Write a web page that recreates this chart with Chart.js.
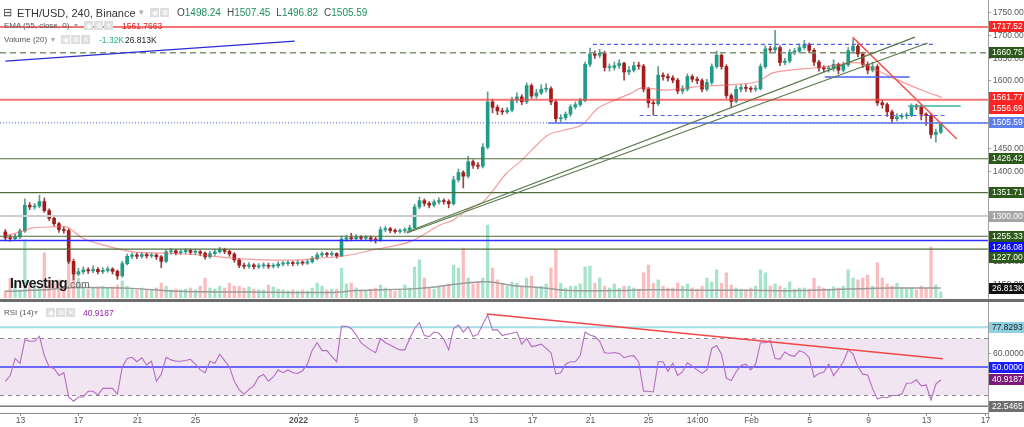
<!DOCTYPE html>
<html><head><meta charset="utf-8">
<script src="https://cdn.jsdelivr.net/npm/chart.js@4.4.1/dist/chart.umd.min.js"></script>
<style>
html,body{margin:0;padding:0;background:#fff;}
#wrap{position:relative;width:1024px;height:427px;overflow:hidden;font-family:"Liberation Sans",Arial,sans-serif;}
canvas{position:absolute;left:0;}
#c1{top:0}
#c2{top:300px}
.t{position:absolute;white-space:nowrap;line-height:1;}
.ic{display:inline-block;width:9px;height:9px;background:#dedede;margin-right:1px;vertical-align:top;color:#fff;font-size:7px;line-height:9px;text-align:center;}
.g{color:#1f8f5f}
#sep{position:absolute;left:0;top:299px;width:1024px;height:3px;background:#6d6d6d;}
</style></head>
<body>
<div id="wrap">
<canvas id="c1" width="1024" height="300"></canvas>
<canvas id="c2" width="1024" height="127"></canvas>
<div id="sep"></div>
<div class="t" style="left:3px;top:7px;font-size:11px;color:#444">⊟</div>
<div class="t" style="left:17px;top:8px;font-size:11px;color:#333">ETH/USD, 240, Binance</div>
<div class="t" style="left:139px;top:8px;font-size:9px;color:#aaa">▾</div>
<div class="t" style="left:150px;top:8px"><span class="ic">◉</span><span class="ic">⚙</span></div>
<div class="t" style="left:177px;top:8px;font-size:10px;color:#444">O<span class="g">1498.24</span><span style="margin-left:6px">H</span><span class="g">1507.45</span><span style="margin-left:6px">L</span><span class="g">1496.82</span><span style="margin-left:6px">C</span><span class="g">1505.59</span></div>
<div class="t" style="left:4px;top:22px;font-size:8px;color:#555">EMA (55, close, 0)</div>
<div class="t" style="left:74px;top:22px;font-size:8px;color:#aaa">▾</div>
<div class="t" style="left:84px;top:21px"><span class="ic">◉</span><span class="ic">⚙</span><span class="ic">✕</span></div>
<div class="t" style="left:122px;top:22px;font-size:8.5px;color:#e0201e">1561.7663</div>
<div class="t" style="left:4px;top:36px;font-size:8px;color:#555">Volume (20)</div>
<div class="t" style="left:51px;top:36px;font-size:8px;color:#aaa">▾</div>
<div class="t" style="left:61px;top:35px"><span class="ic">◉</span><span class="ic">⚙</span><span class="ic">✕</span></div>
<div class="t" style="left:99px;top:36px;font-size:8.5px;color:#1db980">-1.32K</div>
<div class="t" style="left:125px;top:36px;font-size:8.5px;color:#222">26.813K</div>
<div class="t" style="left:10px;top:276px;font-size:14px;font-weight:bold;color:#1a1a1a;letter-spacing:-0.5px">Investing<span style="font-size:10.5px;font-weight:normal;color:#666;letter-spacing:0">.com</span></div>
<div class="t" style="left:4px;top:309px;font-size:8px;color:#555">RSI (14)</div>
<div class="t" style="left:34px;top:309px;font-size:8px;color:#aaa">▾</div>
<div class="t" style="left:46px;top:308px"><span class="ic">◉</span><span class="ic">⚙</span><span class="ic">✕</span></div>
<div class="t" style="left:83px;top:309px;font-size:8.5px;color:#9c27b0">40.9187</div>
</div>
<script>
// ---------- DATA (8-hour candles) ----------
const firstOpen = 1265;
const closes = [1252,1250,1254,1267,1324,1320,1322,1332,1312,1295,
1283,1270,1268,1200,1172,1177,1181,1179,1182,1177,
1180,1183,1178,1168,1195,1211,1214,1211,1215,1212,
1214,1210,1200,1221,1223,1219,1221,1224,1220,1221,
1218,1210,1217,1221,1226,1222,1216,1203,1191,1189,
1192,1188,1190,1191,1189,1190,1194,1195,1197,1195,
1197,1196,1199,1206,1214,1217,1215,1217,1212,1249,
1252,1250,1253,1251,1252,1249,1246,1270,1272,1268,
1266,1268,1269,1274,1320,1334,1328,1324,1331,1334,
1332,1327,1380,1396,1388,1420,1412,1410,1452,1552,
1540,1532,1530,1534,1556,1563,1552,1588,1565,1572,
1580,1581,1552,1515,1517,1525,1541,1546,1555,1635,
1658,1655,1660,1628,1628,1632,1637,1618,1622,1632,
1631,1580,1550,1548,1611,1608,1605,1600,1576,1580,
1608,1602,1599,1580,1595,1630,1655,1630,1566,1553,
1580,1584,1582,1580,1581,1630,1669,1667,1672,1639,
1642,1662,1664,1672,1678,1666,1640,1627,1625,1626,
1635,1622,1634,1665,1675,1658,1635,1622,1630,1550,
1546,1530,1515,1519,1521,1522,1543,1541,1525,1522,
1480,1485,1505.59];
const highs = [1270,1258,1260,1272,1338,1330,1328,1346,1340,1316,
1298,1286,1276,1272,1205,1185,1188,1186,1190,1186,
1186,1188,1186,1181,1200,1216,1219,1218,1220,1219,
1218,1217,1213,1226,1228,1226,1226,1228,1227,1226,
1224,1221,1222,1226,1231,1229,1225,1219,1206,1196,
1197,1195,1195,1197,1196,1195,1199,1200,1201,1200,
1202,1201,1204,1211,1219,1221,1220,1222,1219,1256,
1258,1262,1259,1257,1257,1256,1253,1276,1277,1275,
1272,1272,1274,1280,1326,1342,1338,1332,1336,1340,
1338,1336,1388,1404,1400,1432,1424,1418,1460,1574,
1558,1545,1538,1540,1562,1572,1568,1594,1592,1580,
1590,1592,1585,1556,1524,1530,1546,1552,1560,1640,
1671,1664,1668,1664,1636,1640,1645,1640,1630,1640,
1640,1635,1584,1556,1630,1616,1614,1610,1604,1588,
1614,1612,1607,1603,1602,1636,1664,1658,1634,1570,
1588,1590,1590,1586,1588,1636,1676,1675,1710,1676,
1648,1668,1670,1680,1688,1682,1670,1644,1632,1632,
1645,1638,1640,1672,1690,1680,1662,1640,1640,1634,
1556,1550,1534,1526,1526,1528,1548,1547,1545,1528,
1526,1492,1507.45];
const lows = [1245,1244,1246,1250,1264,1314,1315,1318,1308,1290,
1278,1264,1262,1195,1159,1168,1172,1173,1175,1172,
1173,1176,1172,1160,1165,1192,1206,1206,1207,1207,
1208,1204,1186,1197,1216,1214,1215,1217,1215,1215,
1212,1205,1207,1213,1218,1217,1211,1198,1186,1184,
1185,1183,1184,1185,1184,1185,1186,1190,1191,1190,
1191,1192,1193,1196,1203,1210,1210,1211,1207,1210,
1244,1245,1246,1246,1246,1244,1240,1244,1265,1263,
1262,1262,1263,1265,1272,1316,1322,1318,1320,1326,
1326,1318,1324,1375,1362,1384,1405,1404,1406,1448,
1528,1524,1524,1526,1530,1550,1546,1548,1560,1560,
1568,1574,1546,1507,1508,1512,1520,1536,1542,1552,
1630,1648,1650,1620,1620,1622,1626,1600,1612,1618,
1624,1574,1540,1523,1544,1600,1598,1594,1570,1570,
1576,1596,1592,1574,1576,1590,1626,1624,1560,1540,
1550,1574,1575,1574,1575,1578,1626,1660,1662,1632,
1634,1638,1656,1660,1668,1660,1632,1620,1618,1618,
1620,1614,1618,1630,1660,1652,1628,1614,1618,1544,
1538,1520,1505,1510,1514,1515,1519,1535,1512,1500,
1472,1463,1482];
const volumes = [19,54,40,22,157,32,35,27,122,49,
40,49,27,122,95,54,27,24,27,30,
32,27,30,35,46,32,24,22,27,24,
22,27,40,32,22,24,22,24,27,22,
32,54,27,24,32,27,40,32,32,27,
30,24,22,22,35,30,24,22,19,22,
19,22,19,27,40,32,22,24,24,81,
38,40,27,22,19,24,27,35,27,22,
19,22,35,27,84,103,54,27,24,30,
32,38,89,81,135,54,38,43,54,197,
81,49,40,32,43,40,32,54,59,27,
32,38,81,130,40,27,32,32,38,84,
86,40,54,32,27,38,27,32,32,27,
24,68,89,40,49,32,27,27,40,32,
38,27,24,32,54,43,76,40,68,35,
27,24,22,27,32,76,68,32,38,32,
27,43,24,27,27,24,54,32,27,24,
30,27,32,76,54,49,54,62,32,95,
54,38,32,40,27,24,27,22,32,27,
138,35,16];
const rsi = [40,44,56,52.6,69,68,68,71.5,58,50,
49,44,46,29,26,29,29,33,33,30.5,
35,35,35,31,50,56,56.8,53.7,56.5,51.4,
54,40,45,56.8,55,54,54,54.5,55.4,52,
48,46,54,52.6,59,54.5,50,40,34,31,
34.3,37,43,44.8,40,43,47.9,46,47.9,46,
45.5,47.4,52,62,67,61.5,61.5,57.5,53.7,78.5,
78.6,77,72.5,67,64.3,62,60,70,67,65.4,
63.5,62,62,70,77,81,72,71.3,74.5,73.6,
69.5,62,77,79.4,74.5,78.3,71.3,73,80,86.4,
76,76,72,73,73.6,74.5,66,70,64.3,65,
66,63,60,45,46,52,53.7,53.7,58,74.5,
72.4,71.3,68,60,59.6,60.2,59.5,56.5,57.5,58,
53.5,33,33,32.5,53.7,53.7,47,52.6,44,46.7,
53,50.5,48,45.5,48,63,65,59,42,40.5,
46.7,51,52,48,52,67,67,68.5,56,55.5,
60.5,58.3,57.5,61.5,60,56.5,43,45.5,46.5,52,
44,48.5,53.5,62,59,50.2,45,44.4,35,27.5,
29,28.5,30,30,31,38.6,38.8,41,36.8,37.4,
27,38,40.9187];
const emaIdx = [0,3,5.7,10,12.6,15.9,19.4,26.2,33.2,39.9,46.7,53.7,60.5,64,67.2,70.7,75.4,83,89.2,91.9,94.7,98,100,102.9,105.6,108.1,111.4,114.8,118.3,121.6,125.1,128.6,130.6,135.4,141.5,147.3,154.2,157.5,161,167.8,173.3,175.4,178.9,182.2,185.6,189.1,192.2];
const emaVal = [1256,1265,1274,1276,1276,1251,1238,1221,1218,1214,1207,1203,1203,1207,1209,1214,1225,1243,1280,1291,1313,1331,1355,1395,1419,1446,1479,1490,1501,1538,1556,1572,1583,1578,1585,1589,1596,1616,1622,1629,1638,1638,1622,1605,1589,1574,1562];
const volMaIdx = [0,8,14,26,35,50,67,72,85,93,99,104,110,116,125,133,143,153,163,173,182,192];
const volMaVal = [18,22,28,26,18,16,15,20,26,38,44,34,28,20,20,22,21,21,20,24,27,26.813];
const volMaLabel = '26.813K';

// horizontal levels (price) and drawn segments [i1, price1, i2, price2]
const hLevels = [1717.52, 1660.75, 1556.69, 1505.59, 1426.42, 1351.71, 1300.00, 1255.33, 1246.08, 1227.00];
const segments = [
  [82.4,1264.7,186.7,1695],
  [82.4,1262.5,189.3,1682],
  [173.9,1695,195.3,1470],
  [0,1642,59.4,1686],
  [120.6,1679,190.8,1679],
  [130.2,1522,192.8,1522],
  [168.2,1607,185.6,1607],
  [185.3,1543,196.1,1543],
  [111.4,1505.59,201.7,1505.59]
];
const priceTicks = [1150,1200,1250,1300,1350,1400,1450,1500,1550,1600,1650,1700,1750];
const priceBoxVals = [1717.52,1660.75,1561.77,1556.69,1505.59,1426.42,1351.71,1300.00,1255.33,1246.08,1227.00];

// RSI panel
const rsiLevels = [77.8293, 70, 50, 30, 22.5465];
const rsiTrend = [98.8, 87.1, 192.4, 55.8];
const rsiBoxVals = [77.8293, 50, 40.9187, 22.5465];
const rsiTicks = [60];

// time axis
const dateTickIdx = [3,15,27,39,60,72,84,96,108,120,132,142,153,165,177,189,201];
const dateTickLabels = ['13','17','21','25','2022','5','9','13','17','21','25','14:00','Feb','5','9','13','17'];

// ---------- STYLES ----------
const X_MIN = -1.1, X_MAX = 201.7;
const FONT = '"Liberation Sans", Arial, sans-serif';
const AXIS_FONT = '8.5px ' + FONT;
const hStyles = [
  {c:'rgba(244,70,70,0.75)', w:2},
  {c:'#7f9272', w:1.5, d:[6,4]},
  {c:'rgba(244,70,70,0.75)', w:2},
  {c:'#4a63e6', w:1, d:[1,2]},
  {c:'#4f6b3c', w:1.2},
  {c:'#4f6b3c', w:1.2},
  {c:'#cdcdcd', w:2},
  {c:'#4f6b3c', w:1.2},
  {c:'#2e2eff', w:1.5},
  {c:'#4f6b3c', w:1.2}
];
const segStyles = [
  {c:'#5a7a4a', w:1.2},
  {c:'#5a7a4a', w:1.2},
  {c:'#f05656', w:1.5},
  {c:'#2b2bd6', w:1.2},
  {c:'#5060f0', w:1.2, d:[4,3]},
  {c:'#5060f0', w:1.2, d:[4,3]},
  {c:'#4a5ff0', w:1.5},
  {c:'#3cb4a0', w:1.5},
  {c:'#5a74ee', w:1.5}
];
const priceBoxBg = ['#ff2424','#2d5a1b','#ff2424','#ff2424','#5b7ff0','#2d5a1b','#2d5a1b','#a5a5a5','#2d5a1b','#0a0aff','#2d5a1b'];
const rsiBoxBg = ['#8fd1e1','#1a1aff','#7b1a7b','#6f6f6f'];
const rsiBoxFg = ['#222','#fff','#fff','#fff'];

const opens = closes.map((c,i)=> i===0 ? firstOpen : closes[i-1]);
const isUp = closes.map((c,i)=> c >= opens[i]);
const bodyCol = isUp.map(u=> u ? '#1e9c88' : '#a31b1b');
const wickCol = isUp.map(u=> u ? '#5e9e90' : '#a04040');
const volCol = isUp.map(u=> u ? 'rgba(40,190,130,0.42)' : 'rgba(240,90,90,0.4)');

function lineDs(x1,y1,x2,y2,st,order,axis){
  return {type:'line', data:[{x:x1,y:y1},{x:x2,y:y2}], borderColor:st.c, borderWidth:st.w,
    borderDash:st.d||[], pointRadius:0, fill:false, tension:0, yAxisID:axis||'y', order:order};
}
function drawBox(ctx,x,y,w,h,bg,fg,text){
  ctx.fillStyle=bg; ctx.fillRect(x, Math.round(y-h/2), w, h);
  ctx.fillStyle=fg; ctx.fillText(text, x+3, Math.round(y-h/2)+h/2+0.5);
}

// ---------- MAIN CHART ----------
const mainDatasets = [];
hLevels.forEach((v,k)=> mainDatasets.push(lineDs(X_MIN,v,X_MAX,v,hStyles[k],2)));
segments.forEach((s,k)=> mainDatasets.push(lineDs(s[0],s[1],s[2],s[3],segStyles[k],1)));
mainDatasets.push({type:'line', data:emaIdx.map((x,k)=>({x:x,y:emaVal[k]})), borderColor:'rgba(240,90,90,0.6)', borderWidth:1.2, pointRadius:0, tension:0.3, fill:false, yAxisID:'y', order:4});
mainDatasets.push({type:'bar', data:closes.map((c,i)=>({x:i,y:[opens[i],c]})), backgroundColor:bodyCol, barThickness:3, minBarLength:1, grouped:false, yAxisID:'y', order:5});
mainDatasets.push({type:'bar', data:closes.map((c,i)=>({x:i,y:[lows[i],highs[i]]})), backgroundColor:wickCol, barThickness:1, grouped:false, yAxisID:'y', order:6});
mainDatasets.push({type:'line', data:volMaIdx.map((x,k)=>({x:x,y:volMaVal[k]})), borderColor:'#9b9b9b', borderWidth:1.5, pointRadius:0, tension:0.35, fill:false, yAxisID:'yv', order:7});
mainDatasets.push({type:'bar', data:volumes.map((v,i)=>({x:i,y:v})), backgroundColor:volCol, barThickness:2.6, grouped:false, yAxisID:'yv', order:8});

const mainAxis = {id:'mainAxis', afterDraw(chart){
  const {ctx, chartArea:a} = chart; const ys = chart.scales.y, yv = chart.scales.yv;
  ctx.save();
  ctx.fillStyle='#fff'; ctx.fillRect(a.right, 0, chart.width-a.right, chart.height);
  ctx.strokeStyle='#a0a0a0'; ctx.lineWidth=1;
  ctx.beginPath(); ctx.moveTo(a.right+0.5,0); ctx.lineTo(a.right+0.5,chart.height); ctx.stroke();
  ctx.font=AXIS_FONT; ctx.textBaseline='middle'; ctx.textAlign='left';
  priceTicks.forEach(v=>{
    const py=Math.round(ys.getPixelForValue(v))+0.5;
    ctx.strokeStyle='#a0a0a0'; ctx.beginPath(); ctx.moveTo(a.right,py); ctx.lineTo(a.right+3,py); ctx.stroke();
    ctx.fillStyle='#555'; ctx.fillText(v.toFixed(2), a.right+5, py);
  });
  const items = priceBoxVals.map((v,k)=>({t:v.toFixed(2), y:ys.getPixelForValue(v), bg:priceBoxBg[k]}));
  items.sort((p,q)=>p.y-q.y);
  for(let k=1;k<items.length;k++) if(items[k].y<items[k-1].y+10.8) items[k].y=items[k-1].y+10.8;
  items.forEach(it=>drawBox(ctx,a.right+1,it.y,35,11,it.bg,'#fff',it.t));
  const vy = yv.getPixelForValue(volMaVal[volMaVal.length-1]);
  drawBox(ctx,a.right+1,vy,35,11,'#111','#fff',volMaLabel);
  ctx.restore();
}};

new Chart(document.getElementById('c1'), {
  type:'bar',
  data:{datasets:mainDatasets},
  options:{
    responsive:false, animation:false, events:[],
    layout:{padding:{left:0,right:36,top:0,bottom:2}},
    plugins:{legend:{display:false}, tooltip:{enabled:false}},
    scales:{
      x:{type:'linear', min:X_MIN, max:X_MAX, display:false, offset:false},
      y:{type:'linear', min:1119, max:1777, display:false},
      yv:{type:'linear', min:0, max:805, display:false}
    }
  },
  plugins:[mainAxis]
});

// ---------- RSI CHART ----------
const rsiDatasets = [];
rsiDatasets.push(lineDs(rsiTrend[0],rsiTrend[1],rsiTrend[2],rsiTrend[3],{c:'#f04848',w:1.5},1));
rsiDatasets.push({type:'line', data:rsi.map((v,i)=>({x:i,y:v})), borderColor:'#b36cc4', borderWidth:1.1, pointRadius:0, tension:0, fill:false, order:2});
rsiDatasets.push(lineDs(X_MIN,rsiLevels[2],X_MAX,rsiLevels[2],{c:'#3b3bff',w:1.5},3));
rsiDatasets.push(lineDs(X_MIN,rsiLevels[0],X_MAX,rsiLevels[0],{c:'#a6dce8',w:2},3));
rsiDatasets.push(lineDs(X_MIN,rsiLevels[4],X_MAX,rsiLevels[4],{c:'#7a7a7a',w:1.5},3));
const band30 = lineDs(X_MIN,rsiLevels[3],X_MAX,rsiLevels[3],{c:'#8c8c8c',w:1,d:[4,4]},4);
const band70 = lineDs(X_MIN,rsiLevels[1],X_MAX,rsiLevels[1],{c:'#8c8c8c',w:1,d:[4,4]},4);
band70.fill = {target:'+1'}; band70.backgroundColor='rgba(128,0,128,0.1)';
rsiDatasets.push(band70); rsiDatasets.push(band30);

const rsiAxis = {id:'rsiAxis', afterDraw(chart){
  const {ctx, chartArea:a} = chart; const ys = chart.scales.y, xs = chart.scales.x;
  ctx.save();
  ctx.fillStyle='#fff'; ctx.fillRect(a.right,0,chart.width-a.right,chart.height);
  ctx.fillRect(0,a.bottom,a.right,chart.height-a.bottom);
  ctx.strokeStyle='#a0a0a0'; ctx.lineWidth=1;
  ctx.beginPath(); ctx.moveTo(a.right+0.5,0); ctx.lineTo(a.right+0.5,a.bottom+4); ctx.stroke();
  ctx.strokeStyle='#8a8a8a';
  ctx.beginPath(); ctx.moveTo(0,a.bottom+0.5); ctx.lineTo(a.right+1,a.bottom+0.5); ctx.stroke();
  ctx.textBaseline='middle'; ctx.textAlign='center';
  dateTickIdx.forEach((idx,k)=>{
    const px=Math.round(xs.getPixelForValue(idx))+0.5;
    ctx.strokeStyle='#8a8a8a'; ctx.beginPath(); ctx.moveTo(px,a.bottom); ctx.lineTo(px,a.bottom+3); ctx.stroke();
    ctx.font = (dateTickLabels[k]==='2022' ? 'bold ' : '') + AXIS_FONT;
    ctx.fillStyle='#555'; ctx.fillText(dateTickLabels[k], px, a.bottom+7.5);
  });
  ctx.textAlign='left'; ctx.font=AXIS_FONT;
  rsiTicks.forEach(v=>{
    const py=Math.round(ys.getPixelForValue(v))+0.5;
    ctx.strokeStyle='#a0a0a0'; ctx.beginPath(); ctx.moveTo(a.right,py); ctx.lineTo(a.right+3,py); ctx.stroke();
    ctx.fillStyle='#555'; ctx.fillText(v.toFixed(4), a.right+5, py);
  });
  rsiBoxVals.forEach((v,k)=> drawBox(ctx,a.right+1,ys.getPixelForValue(v),35,11,rsiBoxBg[k],rsiBoxFg[k],v.toFixed(4)));
  ctx.restore();
}};

new Chart(document.getElementById('c2'), {
  type:'line',
  data:{datasets:rsiDatasets},
  options:{
    responsive:false, animation:false, events:[],
    layout:{padding:{left:0,right:36,top:2,bottom:14}},
    plugins:{legend:{display:false}, tooltip:{enabled:false}},
    scales:{
      x:{type:'linear', min:X_MIN, max:X_MAX, display:false, offset:false},
      y:{type:'linear', min:17.77, max:95.55, display:false}
    }
  },
  plugins:[rsiAxis]
});
</script>
</body></html>
